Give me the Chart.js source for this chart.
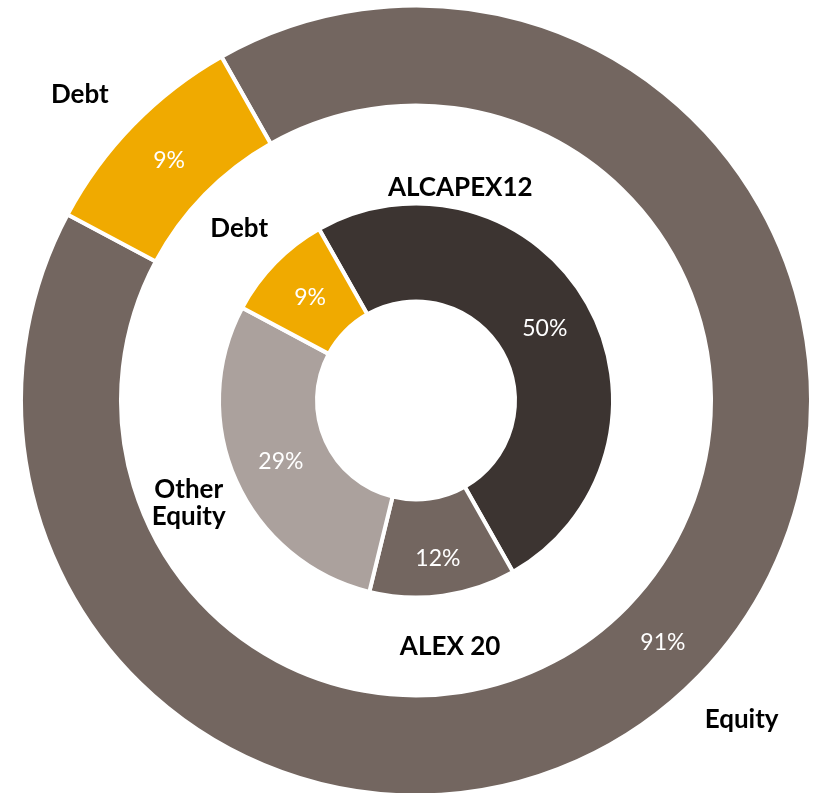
<!DOCTYPE html>
<html><head><meta charset="utf-8">
<script src="https://cdn.jsdelivr.net/npm/chart.js@4.4.1/dist/chart.umd.min.js"></script>
<style>html,body{margin:0;padding:0;background:#fff;overflow:hidden;width:816px;height:793px}canvas{display:block}</style>
</head><body><canvas id="c" width="816" height="801"></canvas>
<script>
// ---- data ----
const outerCategories = ['Equity', 'Debt'];
const outerValues = [91, 9];
const innerCategories = ['ALCAPEX12', 'ALEX 20', 'Other\nEquity', 'Debt'];
const innerValues = [50, 12, 29, 9];

// ---- styles ----
const outerColors = ['#736660', '#F0AA00'];
const innerColors = ['#3C3431', '#736660', '#ABA19D', '#F0AA00'];

function drawText(ctx, text, x, y, size, weight, color, lh) {
  const lines = String(text).split('\n');
  ctx.save();
  ctx.font = weight + ' ' + size + 'px Lato';
  ctx.fillStyle = color;
  ctx.textAlign = 'center';
  ctx.textBaseline = 'alphabetic';
  const cap = size * 0.72;
  const first = y - (lines.length - 1) * lh / 2 + cap / 2;
  lines.forEach((l, k) => ctx.fillText(l, x, first + k * lh));
  ctx.restore();
}

const ringLabels = {
  id: 'ringLabels',
  afterDatasetsDraw(chart, args, opts) {
    const ctx = chart.ctx;
    chart.data.datasets.forEach((ds, di) => {
      const cfg = opts.rings[di];
      if (!cfg) return;
      const meta = chart.getDatasetMeta(di);
      meta.data.forEach((arc, i) => {
        const p = arc.getProps(['x', 'y', 'startAngle', 'endAngle', 'innerRadius', 'outerRadius'], true);
        const span = p.endAngle - p.startAngle;
        const mid = p.startAngle + span / 2;
        const rp = (p.innerRadius + p.outerRadius) / 2 + ((cfg.pctShift && cfg.pctShift[i]) || 0);
        drawText(ctx, ds.data[i] + '%', p.x + rp * Math.cos(mid), p.y + rp * Math.sin(mid),
          opts.pctSize, 'normal', '#ffffff', 0);
        const frac = (cfg.nameFrac && cfg.nameFrac[i] != null) ? cfg.nameFrac[i] : 0.5;
        const gap = Array.isArray(cfg.nameGap) ? cfg.nameGap[i] : cfg.nameGap;
        const a = p.startAngle + span * frac;
        const rn = p.outerRadius + gap;
        drawText(ctx, cfg.names[i], p.x + rn * Math.cos(a), p.y + rn * Math.sin(a),
          opts.nameSize, 'bold', '#000000', opts.nameLine);
      });
    });
  }
};

function build() {
  new Chart(document.getElementById('c'), {
    type: 'doughnut',
    data: {
      labels: innerCategories,
      datasets: [
        { data: outerValues, backgroundColor: outerColors, borderColor: '#ffffff', borderWidth: 4, weight: 100 },
        { data: [1], backgroundColor: 'rgba(0,0,0,0)', borderWidth: 0, weight: 98 },
        { data: innerValues, backgroundColor: innerColors, borderColor: '#ffffff', borderWidth: 4, weight: 98 }
      ]
    },
    options: {
      responsive: false,
      animation: false,
      events: [],
      rotation: -29.5,
      radius: 395,
      cutout: '25.06%',
      layout: { padding: { left: 16 } },
      plugins: {
        legend: { display: false },
        tooltip: { enabled: false },
        ringLabels: {
          pctSize: 23,
          nameSize: 26,
          nameLine: 27,
          rings: {
            0: { names: outerCategories, nameGap: 60, nameFrac: [0.5, 0.44] },
            2: { names: innerCategories, nameGap: [21, 51, 52, 50], nameFrac: [0.229, 0.5, 0.5, 0.5], pctShift: [0, 11, 0, 0] }
          }
        }
      }
    },
    plugins: [ringLabels]
  });
}
Promise.all([document.fonts.load('23px Lato'), document.fonts.load('bold 26px Lato')]).then(build, build);
</script>
</body></html>
